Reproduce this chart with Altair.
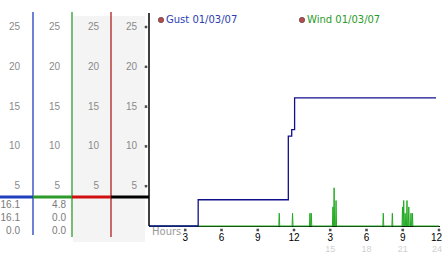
import altair as alt
import pandas as pd

# ---- data ----
gust_hours = [0, 4.07, 11.53, 11.81, 12.05, 23.75]
gust_values = [0, 3.3, 11.3, 12.1, 16.1, 16.1]

wind_spike_hours = [10.78, 11.88, 13.32, 13.43, 15.22, 15.32, 15.48, 19.39, 20.14,
                    20.98, 21.08, 21.2, 21.35, 21.5, 21.68, 21.8]
wind_spike_values = [1.6, 1.6, 1.6, 1.6, 2.4, 4.8, 3.2, 1.6, 1.6,
                     2.4, 3.2, 1.6, 3.2, 2.4, 1.6, 1.6]
wind_start, wind_end = 0.0, 24.0

y_ticks = [5, 10, 15, 20, 25]
x_ticks = [3, 6, 9, 12, 15, 18, 21, 24]
x_labels = ["3", "6", "9", "12", "3", "6", "9", "12"]
x_labels2_hours = [15, 18, 21, 24]
x_labels2 = ["15", "18", "21", "24"]

gust_readout = ["16.1", "16.1", "0.0"]
wind_readout = ["4.8", "0.0", "0.0"]

legend_gust = "Gust 01/03/07"
legend_wind = "Wind 01/03/07"

# ---- tables ----
gust_df = pd.DataFrame({"hour": gust_hours, "value": gust_values})

hw = 0.04
wh, wv = [wind_start], [0.0]
for h, v in zip(wind_spike_hours, wind_spike_values):
    wh += [h - hw, h, h + hw]
    wv += [0.0, v, 0.0]
wh.append(wind_end)
wv.append(0.0)
wind_df = pd.DataFrame({"hour": wh, "value": wv, "i": range(len(wh))})

ytick_df = pd.DataFrame({"value": y_ticks, "label": [str(v) for v in y_ticks]})
xtick_df = pd.DataFrame({"hour": x_ticks, "label": x_labels})
xtick2_df = pd.DataFrame({"hour": x_labels2_hours, "label": x_labels2})
one = pd.DataFrame({"a": [0]})

FONT = "DejaVu Sans"
NUMFONT = "Liberation Sans"
GRID = "#b9b9b9"

xs = alt.Scale(domain=[0, 24], nice=False, zero=False)
ys = alt.Scale(domain=[0, 25], nice=False)

# grid / axes
grid = alt.Chart(gust_df).mark_point(opacity=0).encode(
    x=alt.X("hour:Q", scale=xs, title=None,
            axis=alt.Axis(values=[0, 3, 6, 9, 12, 15, 18, 21, 24], grid=True, labels=False,
                          ticks=False, domain=False, gridColor=GRID, gridWidth=1)),
    y=alt.Y("value:Q", scale=ys, title=None,
            axis=alt.Axis(values=[0, 5, 10, 15, 20, 25], grid=True, labels=False,
                          ticks=False, domain=False, gridColor=GRID, gridWidth=1)),
)

# left panel decorations
gray_bg = alt.Chart(one).mark_rect(color="#f4f4f4").encode(
    x=alt.value(-76), x2=alt.value(-4), y=alt.value(-11), y2=alt.value(215))

def vrule(xp, y1, y2, color, w=1.3):
    return alt.Chart(one).mark_rule(color=color, strokeWidth=w).encode(
        x=alt.value(xp), y=alt.value(y1), y2=alt.value(y2))

def hrule(x1, x2, yp, color, w=3):
    return alt.Chart(one).mark_rule(color=color, strokeWidth=w).encode(
        x=alt.value(x1), x2=alt.value(x2), y=alt.value(yp))

rules = [
    vrule(-116, -15, 208, "#1f3fbf"),
    vrule(-77, -15, 210, "#2a9a2a"),
    vrule(-38, -15, 210, "#b02020"),
    hrule(-149, -116, 170, "#1f3fbf"),
    hrule(-116, -77, 170, "#2a9a2a"),
    hrule(-77, -38, 170, "#d01010"),
    hrule(-38, 0, 170, "#000000"),
]

ylabels = [
    alt.Chart(ytick_df).mark_text(align="right", baseline="middle", fontSize=10,
                                  font=NUMFONT, color="#8a8a8a").encode(
        y=alt.Y("value:Q", scale=ys, axis=None), x=alt.value(xp), text="label:N")
    for xp in [-129, -89, -50, -12]
]

ymarks = alt.Chart(ytick_df).mark_point(shape="cross", angle=45, size=10, filled=True,
                                        color="#000").encode(
    y=alt.Y("value:Q", scale=ys, axis=None), x=alt.value(-3))

readouts = [
    alt.Chart(one).mark_text(align="right", baseline="middle", fontSize=10, font=NUMFONT,
                             color="#7a7a7a", lineBreak="\n", lineHeight=13).encode(
        x=alt.value(xp), y=alt.value(178), text=alt.value("\n".join(vals)))
    for xp, vals in [(-129, gust_readout), (-83, wind_readout)]
]

# data lines
wind_line = alt.Chart(wind_df).mark_line(color="#22aa22", strokeWidth=1).encode(
    x=alt.X("hour:Q", scale=xs, axis=None), y=alt.Y("value:Q", scale=ys, axis=None),
    order="i:Q")
gust_line = alt.Chart(gust_df).mark_line(color="#10108a", strokeWidth=1.3,
                                         interpolate="step-after").encode(
    x=alt.X("hour:Q", scale=xs, axis=None), y=alt.Y("value:Q", scale=ys, axis=None))

x_axis_line = hrule(0, 291, 199.5, "#000000", 1)
y_axis_line = vrule(0, -14, 199, "#000000", 1.5)

# x labels
xmarks = alt.Chart(xtick_df).mark_point(shape="cross", angle=45, size=10, filled=True,
                                        color="#000").encode(
    x=alt.X("hour:Q", scale=xs, axis=None), y=alt.value(203))
last = x_ticks[-1]
xlab = alt.Chart(xtick_df).transform_filter(alt.datum.hour < last).mark_text(
    baseline="middle", fontSize=10, font=NUMFONT, color="#000").encode(
    x=alt.X("hour:Q", scale=xs, axis=None), y=alt.value(211), text="label:N")
xlab_last = alt.Chart(xtick_df).transform_filter(alt.datum.hour == last).mark_text(
    baseline="middle", align="right", dx=3, fontSize=10, font=NUMFONT, color="#000").encode(
    x=alt.X("hour:Q", scale=xs, axis=None), y=alt.value(211), text="label:N")
xlab2 = alt.Chart(xtick2_df).transform_filter(alt.datum.hour < last).mark_text(
    baseline="middle", fontSize=9, font=NUMFONT, color="#d0d0d0").encode(
    x=alt.X("hour:Q", scale=xs, axis=None), y=alt.value(221.5), text="label:N")
xlab2_last = alt.Chart(xtick2_df).transform_filter(alt.datum.hour == last).mark_text(
    baseline="middle", align="right", dx=3, fontSize=9, font=NUMFONT, color="#d0d0d0").encode(
    x=alt.X("hour:Q", scale=xs, axis=None), y=alt.value(221.5), text="label:N")
hours_lab = alt.Chart(one).mark_text(align="left", baseline="middle", fontSize=10,
                                     font=FONT, color="#9a9a9a").encode(
    x=alt.value(3), y=alt.value(205), text=alt.value("Hours"))

# legend
leg = []
for dx, label, col in [(12, legend_gust, "#2a40b0"), (153, legend_wind, "#2a9a2a")]:
    leg.append(alt.Chart(one).mark_point(shape="circle", size=28, filled=True,
                                         color="#9a0000", stroke="#300000",
                                         strokeWidth=0.8).encode(
        x=alt.value(dx), y=alt.value(-7)))
    leg.append(alt.Chart(one).mark_text(align="left", baseline="middle", fontSize=10,
                                        font=FONT, color=col).encode(
        x=alt.value(dx + 5), y=alt.value(-7), text=alt.value(label)))

chart = alt.layer(
    gray_bg, grid, *rules, *ylabels, ymarks, *readouts,
    x_axis_line, wind_line, gust_line, y_axis_line,
    xmarks, xlab, xlab_last, xlab2, xlab2_last, hours_lab, *leg,
).properties(
    width=290, height=199,
    autosize=alt.AutoSizeParams(type="none"),
    padding={"left": 149, "top": 27, "right": 3, "bottom": 27},
).configure_view(stroke=None)

chart.save("out.html", embed_options={"renderer": "svg", "actions": False})
